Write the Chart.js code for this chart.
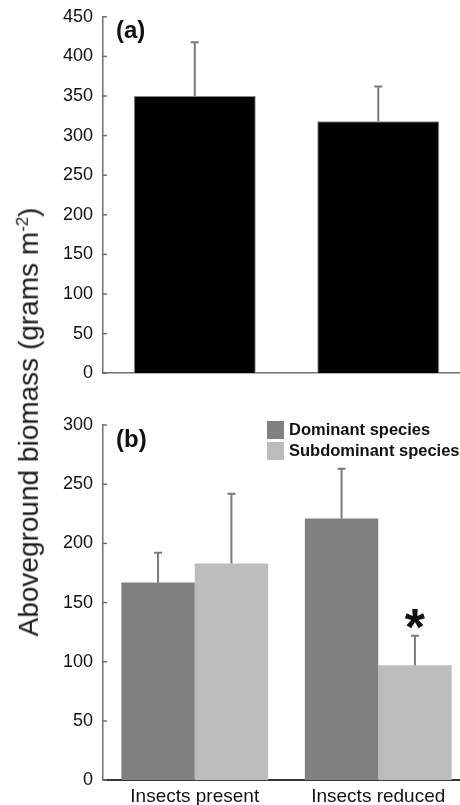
<!DOCTYPE html>
<html>
<head>
<meta charset="utf-8">
<script src="https://cdn.jsdelivr.net/npm/chart.js@4.4.1/dist/chart.umd.min.js"></script>
<style>
    html, body {
        margin: 0;
        padding: 0;
        background: #fff;
        overflow: hidden;
        width: 460px;
        height: 805px;
    }

    .panel {
        position: absolute;
        left: 0;
        width: 470px;
    }

    #panelA {
        top: -4px;
        height: 398px;
    }

    #panelB {
        top: 400px;
        height: 413px;
    }

    .yTitle {
        position: absolute;
        left: 29px;
        top: 422px;
        transform: translate(-50%, -50%) rotate(-90deg);
        white-space: nowrap;
        font-family: "Liberation Sans", Arial, sans-serif;
        font-size: 28px;
        color: #1a1a1a;
    }

    .yTitle sup {
        font-size: 60%;
    }
</style>
</head>
<body>
<div class="panel" id="panelA"><canvas id="chartA"></canvas></div>
<div class="panel" id="panelB"><canvas id="chartB"></canvas></div>
<div class="yTitle">Aboveground biomass (grams m<sup>-2</sup>)</div>

<script>
// panel (a): total biomass
const totalCategories = ['Insects present', 'Insects reduced'];
const totalValues = [350, 318];
const totalErrors = [68, 44];
const totalTicks = [0, 50, 100, 150, 200, 250, 300, 350, 400, 450];

// panel (b): biomass by species group
const groupCategories = ['Insects present', 'Insects reduced'];
const dominantValues = [167, 221];
const dominantErrors = [25, 42];
const subdominantValues = [183, 97];
const subdominantErrors = [59, 25];
const groupTicks = [0, 50, 100, 150, 200, 250, 300];
const significant = [[], [false, true]];

const fontName = '"Liberation Sans", Arial, sans-serif';
const axisGrey = '#6f6f6f';

// error bars (upwards only) + optional asterisk
const errorBarPlugin = {
    id: 'errorBars',
    afterDatasetsDraw(chart, args, opts) {
        const ctx = chart.ctx;
        const yScale = chart.scales.y;
        chart.data.datasets.forEach((ds, d) => {
            const meta = chart.getDatasetMeta(d);
            meta.data.forEach((bar, i) => {
                const top = yScale.getPixelForValue(ds.data[i] + ds.errors[i]);
                ctx.save();
                ctx.strokeStyle = '#7a7a7a';
                ctx.lineWidth = 2;
                ctx.beginPath();
                ctx.moveTo(bar.x, bar.y);
                ctx.lineTo(bar.x, top);
                ctx.moveTo(bar.x - 4, top);
                ctx.lineTo(bar.x + 4, top);
                ctx.stroke();
                if (ds.stars && ds.stars[i]) {
                    ctx.fillStyle = '#111';
                    ctx.font = 'bold 52px ' + fontName;
                    ctx.textAlign = 'center';
                    ctx.textBaseline = 'middle';
                    ctx.fillText('*', bar.x, top - 5);
                }
                ctx.restore();
            });
        });
    }
};

// inward tick marks, panel letter, legend
const decorPlugin = {
    id: 'decor',
    afterDraw(chart, args, opts) {
        const ctx = chart.ctx;
        const area = chart.chartArea;
        const yScale = chart.scales.y;
        ctx.save();
        ctx.strokeStyle = axisGrey;
        ctx.lineWidth = 1.5;
        yScale.ticks.forEach(t => {
            const y = yScale.getPixelForValue(t.value);
            ctx.beginPath();
            ctx.moveTo(area.left, y);
            ctx.lineTo(area.left + 4, y);
            ctx.stroke();
        });

        ctx.fillStyle = '#111';
        ctx.font = 'bold 24px ' + fontName;
        ctx.textAlign = 'left';
        ctx.textBaseline = 'middle';
        ctx.fillText(opts.letter, area.left + 13, area.top + 15);

        if (opts.legend) {
            ctx.font = 'bold 16.5px ' + fontName;
            chart.data.datasets.forEach((ds, d) => {
                const y = area.top - 4 + d * 21;
                ctx.fillStyle = ds.backgroundColor;
                ctx.fillRect(area.left + 164, y, 17, 18);
                ctx.fillStyle = '#111';
                ctx.fillText(ds.label, area.left + 186, y + 9);
            });
        }
        ctx.restore();
    }
};

function yAxis(ticks) {
    return {
        min: 0,
        max: ticks[ticks.length - 1],
        afterFit(scale) { scale.width = 103; },
        afterBuildTicks(scale) { scale.ticks = ticks.map(v => ({ value: v })); },
        border: { color: axisGrey, width: 1.5 },
        grid: { display: false, drawTicks: false },
        ticks: {
            padding: 10,
            color: '#111',
            font: { family: fontName, size: 18 }
        }
    };
}

new Chart(document.getElementById('chartA'), {
    type: 'bar',
    data: {
        labels: totalCategories,
        datasets: [{
            label: 'Total',
            data: totalValues,
            errors: totalErrors,
            backgroundColor: '#000',
            borderColor: '#8a8a8a',
            borderWidth: 1,
            barPercentage: 1,
            categoryPercentage: 0.665
        }]
    },
    options: {
        responsive: true,
        maintainAspectRatio: false,
        animation: false,
        layout: { padding: { top: 12, bottom: 4, left: 0, right: 0 } },
        plugins: {
            legend: { display: false },
            tooltip: { enabled: false },
            decor: { letter: '(a)', legend: false }
        },
        scales: {
            x: {
                border: { color: axisGrey, width: 1.5 },
                grid: { display: false, drawTicks: false },
                ticks: { display: false }
            },
            y: yAxis(totalTicks)
        }
    },
    plugins: [errorBarPlugin, decorPlugin]
});

new Chart(document.getElementById('chartB'), {
    type: 'bar',
    data: {
        labels: groupCategories,
        datasets: [{
            label: 'Dominant species',
            data: dominantValues,
            errors: dominantErrors,
            backgroundColor: '#808080',
            barPercentage: 1,
            categoryPercentage: 0.8
        }, {
            label: 'Subdominant species',
            data: subdominantValues,
            errors: subdominantErrors,
            stars: significant[1],
            backgroundColor: '#bcbcbc',
            barPercentage: 1,
            categoryPercentage: 0.8
        }]
    },
    options: {
        responsive: true,
        maintainAspectRatio: false,
        animation: false,
        layout: { padding: { top: 25, bottom: 0, left: 0, right: 0 } },
        plugins: {
            legend: { display: false },
            tooltip: { enabled: false },
            decor: { letter: '(b)', legend: true }
        },
        scales: {
            x: {
                border: { color: '#333', width: 2 },
                grid: { display: false, drawTicks: false },
                ticks: {
                    padding: 5,
                    color: '#111',
                    font: { family: fontName, size: 19 }
                }
            },
            y: yAxis(groupTicks)
        }
    },
    plugins: [errorBarPlugin, decorPlugin]
});
</script>
</body>
</html>
